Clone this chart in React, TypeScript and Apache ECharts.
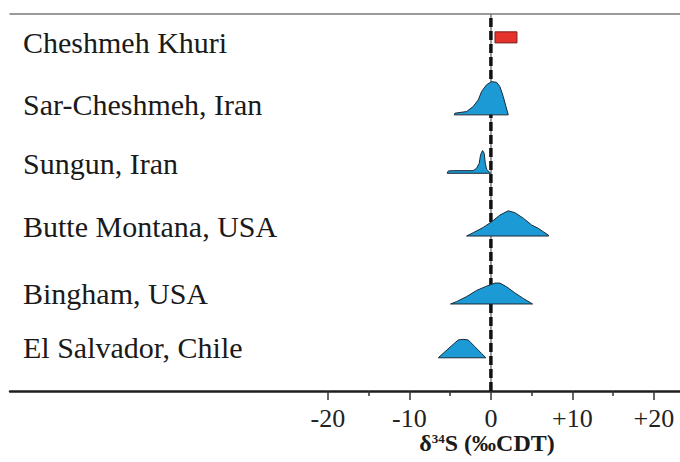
import React, { useEffect, useRef } from "react";
import * as echarts from "echarts";

// Site names, top to bottom
const SITES = [
  "Cheshmeh Khuri",
  "Sar-Cheshmeh, Iran",
  "Sungun, Iran",
  "Butte Montana, USA",
  "Bingham, USA",
  "El Salvador, Chile",
];
// Baseline of each row on the (hidden) vertical axis
const BASELINES = [5.51, 4.49, 3.54, 2.52, 1.415, 0.54];

// Cheshmeh Khuri: measured δ34S range (bar) and its vertical extent
const CHESHMEH_KHURI_RANGE = [0.5, 3.2];
const CHESHMEH_KHURI_BAR_Y = [5.66, 5.84];

// Distribution outlines: [δ34S, relative frequency]
const SAR_CHESHMEH = [
  [-4.5, 0], [-4.42, 0.027], [-2.98, 0.054], [-2.17, 0.136], [-1.55, 0.244],
  [-1.14, 0.38], [-0.53, 0.49], [0.08, 0.54], [0.7, 0.53], [1.1, 0.46],
  [1.51, 0.3], [1.84, 0.14], [2.13, 0],
];
const SUNGUN = [
  [-5.36, 0], [-5.23, 0.038], [-4.62, 0.043], [-2.17, 0.043], [-1.76, 0.081],
  [-1.43, 0.163], [-1.27, 0.3], [-1.02, 0.37], [-0.82, 0.325], [-0.69, 0.163],
  [-0.53, 0.065], [-0.12, 0.011], [-0.04, 0],
];
const BUTTE = [
  [-2.98, 0], [-2.17, 0.054], [-0.94, 0.14], [0.08, 0.23], [1.1, 0.34],
  [2.13, 0.41], [2.94, 0.38], [3.97, 0.29], [4.99, 0.18], [5.81, 0.125],
  [6.42, 0.07], [7.03, 0.016], [7.1, 0],
];
const BINGHAM = [
  [-4.95, 0], [-4.21, 0.038], [-2.98, 0.12], [-1.76, 0.22], [-0.53, 0.29],
  [0.49, 0.34], [1.1, 0.34], [1.92, 0.28], [2.94, 0.18], [3.97, 0.09], [5.11, 0],
];
const EL_SALVADOR = [
  [-6.46, 0], [-5.64, 0.098], [-4.83, 0.195], [-4.01, 0.29], [-3.4, 0.3],
  [-2.78, 0.29], [-1.96, 0.18], [-1.14, 0.07], [-0.61, 0],
];
const DISTRIBUTIONS = [
  { site: 1, points: SAR_CHESHMEH },
  { site: 2, points: SUNGUN },
  { site: 3, points: BUTTE },
  { site: 4, points: BINGHAM },
  { site: 5, points: EL_SALVADOR },
];

// Axis
const X_MIN = -59;
const X_MAX = 23.2;
const Y_MAX = 6.13;
const MAJOR_TICKS = [-20, -10, 0, 10, 20];
const MINOR_TICKS = [-15, -5, 5, 15];

const SERIF = "'Liberation Serif', 'Times New Roman', serif";

export default function App() {
  const ref = useRef<HTMLDivElement>(null);
  useEffect(() => {
    if (!ref.current) return;
    const chart = echarts.init(ref.current, undefined, { renderer: "svg" });
    const option: any = {
      animation: false,
      backgroundColor: "#ffffff",
      grid: { left: 10, right: 0, top: 14, bottom: 71, containLabel: false, outerBoundsMode: "none" },
      xAxis: [
        {
          type: "value",
          min: X_MIN,
          max: X_MAX,
          position: "bottom",
          axisLine: { show: true, lineStyle: { color: "#1e1e1e", width: 2.5 } },
          axisTick: { show: true, length: 9, customValues: MAJOR_TICKS, lineStyle: { color: "#333", width: 1.5 } },
          axisLabel: {
            show: true,
            customValues: MAJOR_TICKS,
            formatter: (v: number) => (v > 0 ? "+" + v : String(v)),
            fontSize: 26,
            lineHeight: 22,
            fontFamily: SERIF,
            color: "#222",
            margin: 16,
          },
          splitLine: { show: false },
        },
        {
          type: "value",
          min: X_MIN,
          max: X_MAX,
          position: "bottom",
          axisLine: { show: false },
          axisTick: { show: true, length: 5, customValues: MINOR_TICKS, lineStyle: { color: "#333", width: 1.5 } },
          axisLabel: { show: false },
          splitLine: { show: false },
        },
        {
          type: "value",
          min: X_MIN,
          max: X_MAX,
          position: "top",
          axisLine: { show: true, lineStyle: { color: "#7a7a7a", width: 1.5 } },
          axisTick: { show: false },
          axisLabel: { show: false },
          splitLine: { show: false },
        },
      ],
      yAxis: {
        type: "value",
        min: 0,
        max: Y_MAX,
        axisLine: { show: true, lineStyle: { color: "#7a7a7a", width: 1.5 } },
        axisTick: { show: false },
        axisLabel: { show: false },
        splitLine: { show: false },
      },
      series: [
        {
          type: "line",
          data: [[0, 0], [0, Y_MAX]],
          symbol: "none",
          z: 1,
          lineStyle: { color: "#111", width: 3.5, type: [9, 4] },
        },
        {
          type: "custom",
          z: 3,
          data: DISTRIBUTIONS.map((_, i) => [i]),
          renderItem: (params: any, api: any) => {
            const d = DISTRIBUTIONS[params.dataIndex];
            const base = BASELINES[d.site];
            const pts = d.points.map(([x, h]) => api.coord([x, base + h]));
            return {
              type: "polygon",
              shape: { points: pts },
              style: { fill: "#1b9ad6", stroke: "#1b2a36", lineWidth: 1 },
            };
          },
        },
        {
          type: "custom",
          z: 3,
          data: [[0]],
          renderItem: (_params: any, api: any) => {
            const p0 = api.coord([CHESHMEH_KHURI_RANGE[0], CHESHMEH_KHURI_BAR_Y[1]]);
            const p1 = api.coord([CHESHMEH_KHURI_RANGE[1], CHESHMEH_KHURI_BAR_Y[0]]);
            return {
              type: "rect",
              shape: { x: p0[0], y: p0[1], width: p1[0] - p0[0], height: p1[1] - p0[1] },
              style: { fill: "#e5322b", stroke: "#7a2420", lineWidth: 1 },
            };
          },
        },
        {
          type: "custom",
          z: 4,
          data: SITES.map((_, i) => [i]),
          renderItem: (params: any, api: any) => {
            const i = params.dataIndex;
            const p = api.coord([X_MIN, BASELINES[i]]);
            return {
              type: "text",
              x: p[0] + 13,
              y: p[1] - 10,
              style: {
                text: SITES[i],
                fontSize: 30,
                fontFamily: SERIF,
                fill: "#1a1a1a",
                align: "left",
                verticalAlign: "middle",
              },
            };
          },
        },
      ],
      graphic: [
        {
          type: "text",
          x: 487,
          y: 443,
          style: {
            text: "{d|δ}{sup|34}{s|S (‰CDT)}",
            align: "center",
            verticalAlign: "middle",
            rich: {
              d: { fontSize: 24, fontWeight: "bold", fontFamily: SERIF, fill: "#1a1a1a", lineHeight: 22 },
              sup: { fontSize: 13, fontWeight: "bold", fontFamily: SERIF, fill: "#1a1a1a", verticalAlign: "top", lineHeight: 22, padding: [0, 0, 6, 0] },
              s: { fontSize: 24, fontWeight: "bold", fontFamily: SERIF, fill: "#1a1a1a", lineHeight: 22 },
            },
          },
        },
      ],
    };
    chart.setOption(option);
    return () => chart.dispose();
  }, []);
  return (
    <div
      ref={ref}
      style={{ position: "absolute", left: 0, top: 0, width: 680, height: 462 }}
    />
  );
}
